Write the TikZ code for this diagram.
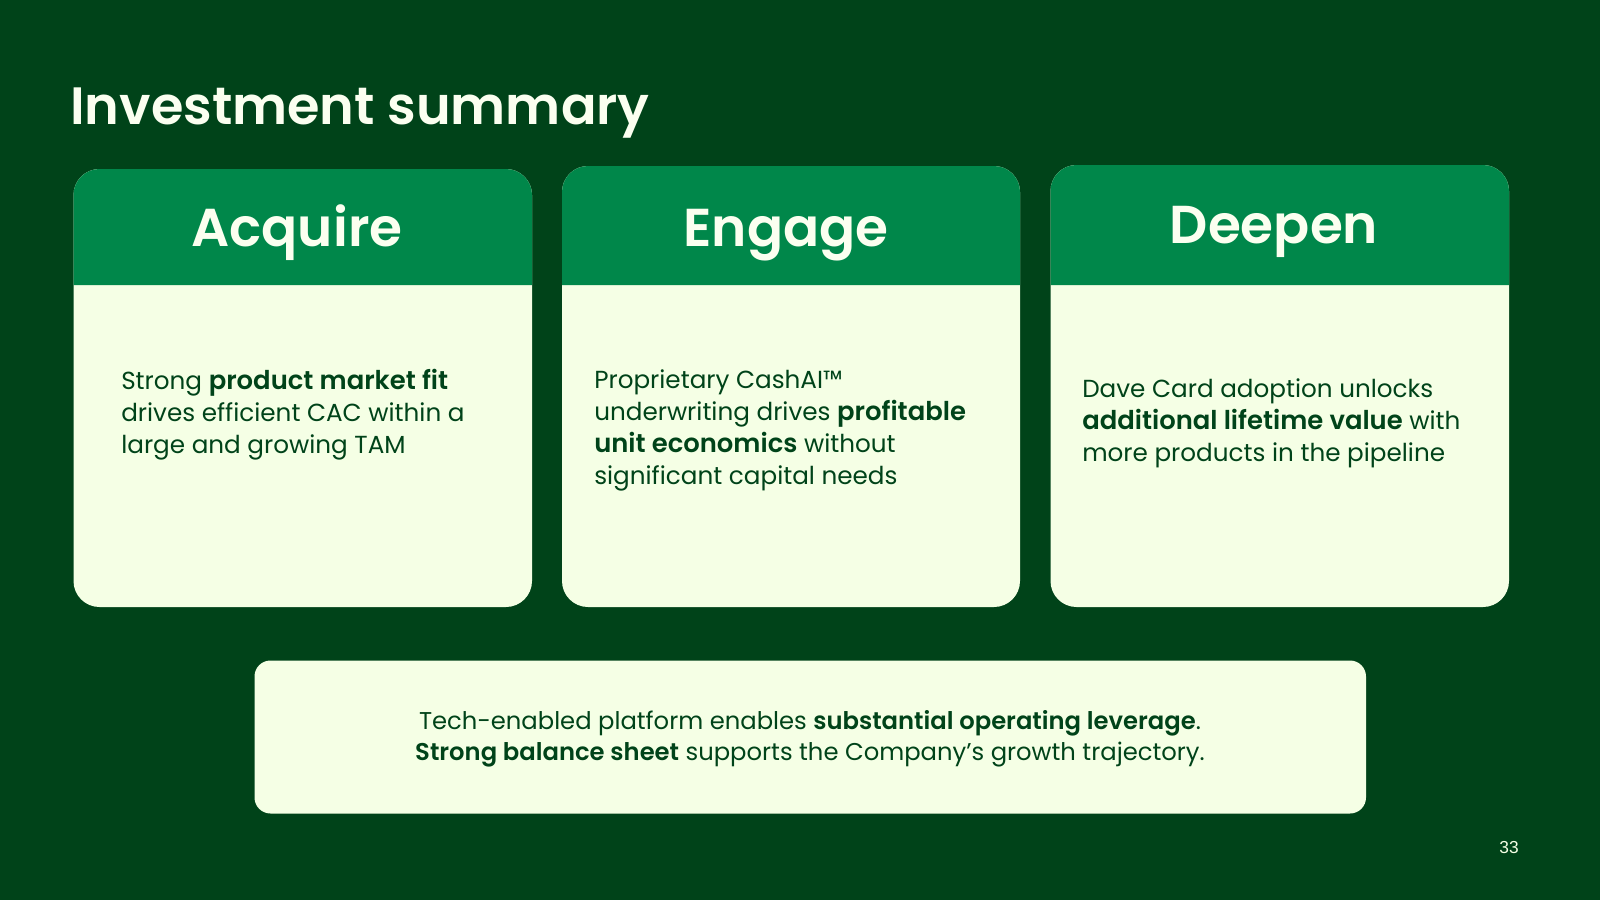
\documentclass[tikz,border=0pt]{standalone}
\usepackage{fontspec}
\setmainfont{Poppins}[BoldFont={Poppins SemiBold}]
\newfontfamily\numfont{Liberation Sans}
\definecolor{bgdark}{RGB}{0,67,25}
\definecolor{headgreen}{RGB}{0,135,74}
\definecolor{cream}{RGB}{245,255,229}
\definecolor{titlecream}{RGB}{251,255,240}
\newcommand{\bodysize}{\fontsize{18.5pt}{24.1pt}\selectfont}
\newcommand{\bb}[1]{{\fontsize{19.4pt}{24.1pt}\selectfont\bfseries #1}}
\tikzset{
  x=0.75pt,y=-0.75pt,
  cardbody/.style={fill=cream,rounded corners=19.5pt},
  cardhead/.style={fill=headgreen},
  headtext/.style={anchor=base,inner sep=0pt,text=titlecream,font=\fontsize{40pt}{48pt}\selectfont\bfseries},
  bodytext/.style={anchor=north west,inner sep=0pt,align=left,text=bgdark,font=\bodysize},
}
\begin{document}
\begin{tikzpicture}
\fill[bgdark] (0,0) rectangle (1600,900);
\useasboundingbox (0,0) rectangle (1600,900);
\node[anchor=base west,inner sep=0pt,text=titlecream,font=\fontsize{39.4pt}{48pt}\selectfont\bfseries] (title) at (70,124) {Investment summary};
% cards
\fill[cardbody] (73.5,169) rectangle (532,607);
\fill[cardbody] (562,166) rectangle (1020,607);
\fill[cardbody] (1050.5,165) rectangle (1509,607);
\fill[cardhead] (73.5,285) [rounded corners=19.5pt] -- (73.5,169) -- (532,169) [sharp corners] -- (532,285) -- cycle;
\fill[cardhead] (562,285) [rounded corners=19.5pt] -- (562,166) -- (1020,166) [sharp corners] -- (1020,285) -- cycle;
\fill[cardhead] (1050.5,285) [rounded corners=19.5pt] -- (1050.5,165) -- (1509,165) [sharp corners] -- (1509,285) -- cycle;
\node[headtext] (acquire) at (297,246) {Acquire};
\node[headtext] (engage) at (786,246) {Engage};
\node[headtext] (deepen) at (1274,243) {Deepen};
\node[bodytext] (t1) at (121,369) {Strong \bb{product market fit}\\drives efficient CAC within a\\large and growing TAM};
\node[bodytext] (t2) at (594,369) {Proprietary CashAI™\\underwriting drives \bb{profitable}\\\bb{unit economics} without\\significant capital needs};
\node[bodytext] (t3) at (1082,378) {Dave Card adoption unlocks\\\bb{additional lifetime value} with\\more products in the pipeline};
\fill[fill=cream,rounded corners=12pt] (254.5,660.5) rectangle (1366,813.5);
\node[anchor=center,inner sep=0pt,align=center,text=bgdark,font=\fontsize{18.2pt}{23.4pt}\selectfont] (bottom) at (810,739) {Tech-enabled platform enables \textbf{substantial operating leverage}.\\\textbf{Strong balance sheet} supports the Company’s growth trajectory.};
\node[anchor=base,inner sep=0pt,text=cream,font=\numfont\fontsize{13pt}{15pt}\selectfont] (page) at (1509,853) {33};
\end{tikzpicture}
\end{document}
